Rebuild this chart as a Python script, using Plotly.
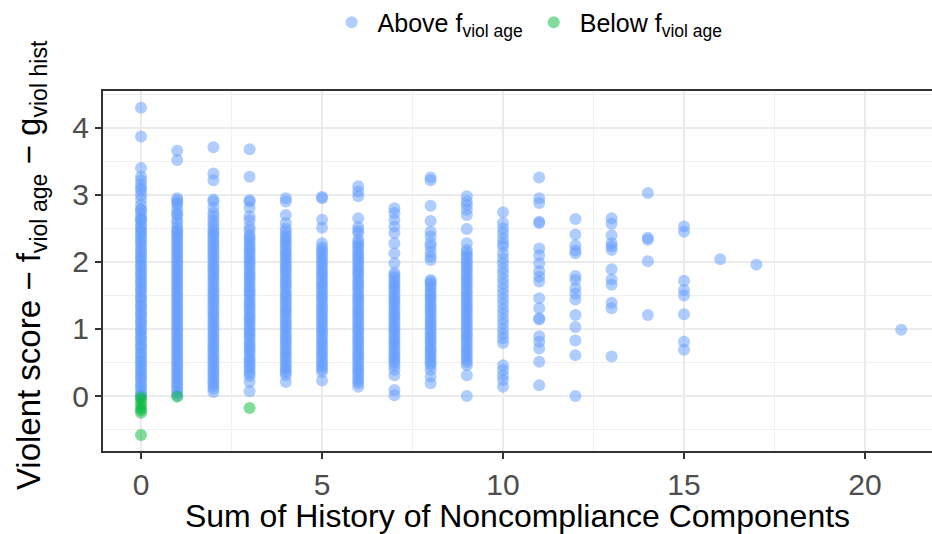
import plotly.graph_objects as go

# valores: soma do histórico (x) e escore ajustado (y), por coluna
above_0 = [4.30, 3.87, 3.40, 3.27, 3.22, 3.15, 3.10, 3.07, 3.00, 2.93, 2.85, 2.78, 2.78, 2.72, 2.66,
           2.63, 2.63, 2.57, 2.52,
           2.49, 2.45, 2.42, 2.38, 2.33, 2.30, 2.26, 2.21, 2.18, 2.14, 2.09, 2.06, 2.02, 1.97,
           1.94, 1.90, 1.85, 1.82, 1.78, 1.73, 1.70, 1.66, 1.61, 1.58, 1.54, 1.49, 1.46, 1.42,
           1.37, 1.34, 1.30, 1.25, 1.22, 1.18, 1.13, 1.10, 1.06, 1.01, 0.98, 0.94, 0.89, 0.86,
           0.82, 0.77, 0.74, 0.70, 0.65, 0.62, 0.58, 0.53, 0.50, 0.46, 0.41, 0.38, 0.34, 0.29,
           0.26, 0.22, 0.17, 0.14, 0.10, 0.05, 0.02, 0.0]
above_1 = [3.66, 3.52, 2.95, 2.92, 2.88, 2.85, 2.78, 2.72, 2.70, 2.63, 2.58, 2.52, 2.47,
           2.45, 2.41, 2.37, 2.33, 2.29, 2.25, 2.21, 2.17, 2.13, 2.09, 2.05, 2.01, 1.97, 1.93,
           1.89, 1.85, 1.81, 1.77, 1.73, 1.69, 1.65, 1.61, 1.57, 1.53, 1.49, 1.45, 1.41, 1.37,
           1.33, 1.29, 1.25, 1.21, 1.17, 1.13, 1.09, 1.05, 1.01, 0.97, 0.93, 0.89, 0.85, 0.81,
           0.77, 0.73, 0.69, 0.65, 0.61, 0.57, 0.53, 0.49, 0.45, 0.41, 0.37, 0.33, 0.29, 0.25,
           0.21, 0.17, 0.13, 0.09, 0.05, 0.01]
above_2 = [3.71, 3.32, 3.22, 2.93, 2.90, 2.81, 2.73, 2.68, 2.62, 2.57, 2.52, 2.47,
           2.44, 2.40, 2.36, 2.31, 2.27, 2.23, 2.19, 2.14, 2.10, 2.06, 2.02, 1.97, 1.93, 1.89,
           1.85, 1.80, 1.76, 1.72, 1.68, 1.63, 1.59, 1.55, 1.51, 1.46, 1.42, 1.38, 1.34, 1.29,
           1.25, 1.21, 1.17, 1.12, 1.08, 1.04, 1.00, 0.95, 0.91, 0.87, 0.83, 0.78, 0.74, 0.70,
           0.66, 0.61, 0.57, 0.53, 0.49, 0.44, 0.40, 0.36, 0.32, 0.27, 0.23, 0.19, 0.15, 0.11,
           0.06]
above_3 = [3.68, 3.27, 2.92, 2.90, 2.81, 2.68, 2.62, 2.52, 2.47,
           2.40, 2.36, 2.32, 2.27, 2.23, 2.19, 2.15, 2.11, 2.06, 2.02, 1.98, 1.94, 1.90, 1.85,
           1.81, 1.77, 1.73, 1.69, 1.64, 1.60, 1.56, 1.52, 1.48, 1.43, 1.39, 1.35, 1.31, 1.27,
           1.22, 1.18, 1.14, 1.10, 1.06, 1.01, 0.97, 0.93, 0.89, 0.85, 0.80, 0.76, 0.72, 0.68,
           0.64, 0.59, 0.55, 0.51, 0.47, 0.43, 0.38, 0.34, 0.30, 0.21, 0.07]
above_4 = [2.95, 2.90, 2.70, 2.58, 2.50, 2.45, 2.40,
           2.36, 2.32, 2.28, 2.24, 2.19, 2.15, 2.11, 2.07, 2.03, 1.98, 1.94, 1.90, 1.86, 1.82,
           1.77, 1.73, 1.69, 1.65, 1.61, 1.56, 1.52, 1.48, 1.44, 1.40, 1.35, 1.31, 1.27, 1.23,
           1.19, 1.14, 1.10, 1.06, 1.02, 0.98, 0.93, 0.89, 0.85, 0.81, 0.77, 0.72, 0.68, 0.64,
           0.60, 0.56, 0.51, 0.47, 0.43, 0.39, 0.35, 0.31, 0.21]
above_5 = [2.97, 2.95, 2.63, 2.51, 2.28, 2.22,
           2.18, 2.14, 2.10, 2.05, 2.01, 1.97, 1.93, 1.88, 1.84, 1.80, 1.76, 1.71, 1.67, 1.63,
           1.59, 1.54, 1.50, 1.46, 1.42, 1.37, 1.33, 1.29, 1.25, 1.20, 1.16, 1.12, 1.08, 1.03,
           0.99, 0.95, 0.91, 0.86, 0.82, 0.78, 0.74, 0.69, 0.65, 0.61, 0.57, 0.52, 0.48, 0.44,
           0.40, 0.36, 0.23]
above_6 = [3.13, 3.05, 2.98, 2.65, 2.52, 2.47, 2.43,
           2.33, 2.29, 2.25, 2.21, 2.16, 2.12, 2.08, 2.04, 2.00, 1.95, 1.91, 1.87, 1.83, 1.79,
           1.74, 1.70, 1.66, 1.62, 1.58, 1.53, 1.49, 1.45, 1.41, 1.37, 1.32, 1.28, 1.24, 1.20,
           1.16, 1.11, 1.07, 1.03, 0.99, 0.95, 0.90, 0.86, 0.82, 0.78, 0.74, 0.69, 0.65, 0.61,
           0.57, 0.53, 0.48, 0.44, 0.40, 0.36, 0.32, 0.27, 0.23, 0.19, 0.14]
above_7 = [2.80, 2.73, 2.63, 2.53, 2.43, 2.28, 2.13, 1.98,
           1.84, 1.80, 1.76, 1.71, 1.67, 1.63, 1.59, 1.55, 1.50, 1.46, 1.42, 1.38, 1.34, 1.29,
           1.25, 1.21, 1.17, 1.13, 1.08, 1.04, 1.00, 0.96, 0.92, 0.87, 0.83, 0.79, 0.75, 0.71,
           0.66, 0.62, 0.58, 0.54, 0.50, 0.45, 0.39, 0.31, 0.09, 0.01]
above_8 = [3.26, 3.22, 2.84, 2.61, 2.45, 2.38, 2.28, 2.23, 2.15, 2.08, 2.03, 1.73,
           1.71, 1.67, 1.63, 1.58, 1.54, 1.50, 1.46, 1.42, 1.37, 1.33, 1.29, 1.25, 1.21, 1.16,
           1.12, 1.08, 1.04, 1.00, 0.95, 0.91, 0.87, 0.83, 0.79, 0.74, 0.70, 0.66, 0.62, 0.58,
           0.53, 0.49, 0.45, 0.39, 0.29, 0.19]
above_9 = [2.98, 2.90, 2.85, 2.78, 2.70, 2.49, 2.28,
           2.18, 2.14, 2.10, 2.06, 2.01, 1.97, 1.93, 1.89, 1.85, 1.80, 1.76, 1.72, 1.68, 1.64,
           1.59, 1.55, 1.51, 1.47, 1.43, 1.38, 1.34, 1.30, 1.26, 1.22, 1.17, 1.13, 1.09, 1.05,
           1.01, 0.96, 0.92, 0.88, 0.84, 0.80, 0.75, 0.71, 0.67, 0.63, 0.59, 0.54, 0.50, 0.46,
           0.31, 0.0]
above_10 = [2.74, 2.58, 2.50, 2.43, 2.35, 2.28, 2.23, 2.13, 2.05, 1.98, 1.9, 1.83, 1.75, 1.68,
            1.6, 1.53, 1.45, 1.38, 1.3, 1.23, 1.15, 1.08, 1.0, 0.93, 0.86, 0.79, 0.46, 0.39, 0.31,
            0.24, 0.14]
above_11 = [3.26, 2.95, 2.88, 2.60, 2.58, 2.20, 2.10, 1.98, 1.86, 1.78, 1.71, 1.46, 1.31, 1.16,
            1.14, 0.89, 0.81, 0.71, 0.51, 0.16]
above_12 = [2.64, 2.41, 2.25, 2.17, 2.13, 1.79, 1.73, 1.61, 1.53, 1.44, 1.21, 1.03, 0.83, 0.61, 0.0]
above_13 = [2.65, 2.57, 2.40, 2.28, 2.23, 2.18, 1.89, 1.74, 1.66, 1.39, 1.31, 0.59]
above_14 = [3.03, 2.36, 2.33, 2.01, 1.21]
above_15 = [2.53, 2.45, 1.72, 1.58, 1.50, 1.22, 0.81, 0.69]
above_16 = [2.04]
above_17 = [1.96]
above_21 = [0.99]

below_0 = [-0.02, -0.06, -0.12, -0.17, -0.21, -0.25, -0.58]
below_1 = [-0.01]
below_3 = [-0.18]

above_cols = [(0, above_0), (1, above_1), (2, above_2), (3, above_3), (4, above_4),
              (5, above_5), (6, above_6), (7, above_7), (8, above_8), (9, above_9),
              (10, above_10), (11, above_11), (12, above_12), (13, above_13), (14, above_14),
              (15, above_15), (16, above_16), (17, above_17), (21, above_21)]
below_cols = [(0, below_0), (1, below_1), (3, below_3)]

x_ticks = [0, 5, 10, 15, 20]
y_ticks = [0, 1, 2, 3, 4]

FONTE = "Liberation Sans, Arial, sans-serif"
AZUL = "#619CFF"
VERDE = "#00BA38"


def juntar(colunas):
    xs, ys = [], []
    for x, vals in colunas:
        xs += [x] * len(vals)
        ys += vals
    return xs, ys


x_above, y_above = juntar(above_cols)
x_below, y_below = juntar(below_cols)

fig = go.Figure()
fig.add_trace(
    go.Scatter(
        x=x_above, y=y_above, mode="markers", name="Above f<sub>viol age</sub>",
        marker=dict(color=AZUL, size=12, opacity=0.5, line=dict(width=0)),
    )
)
fig.add_trace(
    go.Scatter(
        x=x_below, y=y_below, mode="markers", name="Below f<sub>viol age</sub>",
        marker=dict(color=VERDE, size=12, opacity=0.5, line=dict(width=0)),
    )
)

eixo = dict(
    showline=True, linecolor="#333333", linewidth=2,
    ticks="outside", ticklen=6, tickwidth=2, tickcolor="#333333",
    tickfont=dict(size=30, color="#4d4d4d", family=FONTE),
    gridcolor="#ebebeb", gridwidth=1.8, zeroline=False,
)
minor = dict(showgrid=True, gridcolor="#f0f0f0", gridwidth=1, ticks="")

fig.update_layout(
    width=932, height=534,
    margin=dict(l=103, r=0, t=91, b=83, autoexpand=False),
    plot_bgcolor="white", paper_bgcolor="white",
    font=dict(family=FONTE, color="black"),
    xaxis=dict(
        eixo, range=[-1.05, 21.85], tickvals=x_ticks, mirror=True,
        minor=dict(minor, dtick=2.5, tick0=2.5),
        title=dict(text="Sum of History of Noncompliance Components",
                   font=dict(size=32, family=FONTE), standoff=6),
    ),
    yaxis=dict(
        eixo, range=[-0.82, 4.55], tickvals=y_ticks,
        minor=dict(minor, dtick=0.5, tick0=0.5),
    ),
    legend=dict(
        orientation="h", x=0.511, xanchor="center", y=1.19, yanchor="middle",
        font=dict(size=25, family=FONTE), itemclick=False, itemwidth=42,
    ),
    showlegend=True,
)

# título do eixo y como anotação, para posicionar como no original
fig.add_annotation(
    text="Violent score − f<sub>viol age</sub> − g<sub>viol hist</sub>",
    xref="paper", yref="paper", x=-0.087, y=0.516,
    xanchor="center", yanchor="middle", textangle=-90, showarrow=False,
    font=dict(size=33, family=FONTE, color="black"),
)

# a página tem margem padrão de 8px no body; zera para a figura caber na janela
fig.write_html(
    "out.html",
    config={"displayModeBar": False},
    post_script="document.body.style.margin='0';",
)
